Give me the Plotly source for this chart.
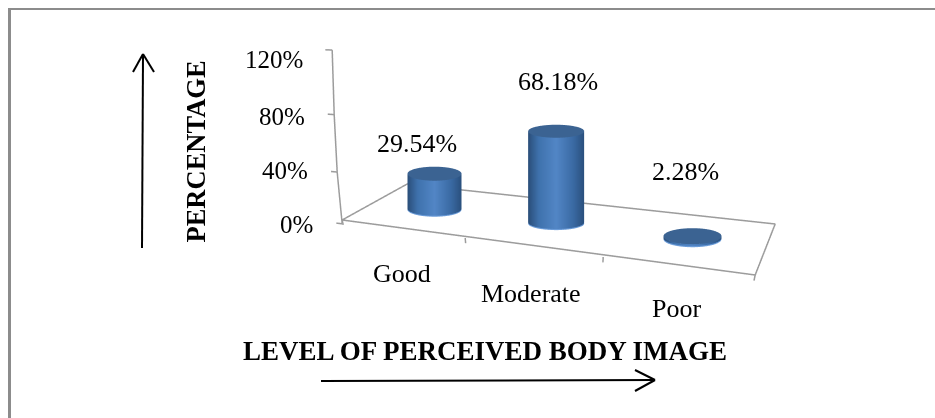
import numpy as np
import plotly.graph_objects as go

categories = ["Good", "Moderate", "Poor"]
values = [29.54, 68.18, 2.28]
value_ticks = [0, 40, 80, 120]
value_labels = ["0%", "40%", "80%", "120%"]
data_labels = ["29.54%", "68.18%", "2.28%"]

W, H = 935, 418
XR = (-0.525, 3.475); YR = (-0.5, 1.5); ZR = (-10, 125)
DOM_X = [.19, 1]; DOM_Y = [0, 1]
UP = np.array([0, 0, 1.0])
CX = W * (DOM_X[0] + DOM_X[1]) / 2
CY = H * (1 - (DOM_Y[0] + DOM_Y[1]) / 2)
F = H * (DOM_Y[1] - DOM_Y[0]) / 2 / np.tan(np.pi / 8)
LO = np.array([XR[0], YR[0], ZR[0]]); HI = np.array([XR[1], YR[1], ZR[1]])

# screen positions the camera is calibrated against
CAL_WORLD = np.array([[0, 0, 0], [1, 0, 0], [2, 0, 0], [3, 0, 0], [3, 1, 0], [0, 1, 0],
                      [.5, .5, 0], [1.5, .5, 0], [2.5, .5, 0], [.5, .5, 29.54], [1.5, .5, 68.18]], float)
CAL_PX = np.array([[342, 220], [465, 238], [603, 257], [755, 275], [775, 224], [407, 184],
                   [433, 209], [557, 225.5], [692, 238], [433, 170], [557, 132]], float)
CAL_WT = np.repeat([.3, .3, .3, .3, .3, .3, 3, 3, 3, 1.5, 1.5], 2)


def project(p, W3):
    eye = p[:3]; cen = p[3:6]; asp = np.array([np.exp(p[6]), np.exp(p[7]), 1.0])
    P = ((np.atleast_2d(np.array(W3, float)) - LO) / (HI - LO) - .5) * asp
    z = eye - cen; z = z / np.linalg.norm(z)
    r = np.cross(UP, z); r = r / np.linalg.norm(r)
    u = np.cross(z, r)
    d = P - eye
    den = -d @ z
    return np.c_[CX + F * (d @ r) / den, CY - F * (d @ u) / den]


def calibrate(p0, n=300):
    p = np.array(p0, float); lam = 1e-2
    fn = lambda q: (project(q, CAL_WORLD) - CAL_PX).ravel() * CAL_WT
    res = fn(p); c = res @ res
    for _ in range(n):
        J = np.zeros((res.size, 8))
        for k in range(8):
            q = p.copy(); q[k] += 1e-5
            J[:, k] = (fn(q) - res) / 1e-5
        A = J.T @ J
        q = p + np.linalg.solve(A + lam * (np.eye(8) * (1 + np.diag(A))), -J.T @ res)
        r2 = fn(q); c2 = r2 @ r2
        if np.isfinite(c2) and c2 < c:
            p, res, c = q, r2, c2; lam = max(lam * .5, 1e-8)
        else:
            lam = min(lam * 3, 1e6)
    return p


P = calibrate([.6435, -2.4272, .6381, .0102, .0492, -.3618, np.log(2.8691), np.log(1.2304)])
EYE = P[:3]; CEN = P[3:6]; ASP = [float(np.exp(P[6])), float(np.exp(P[7])), 1.0]


def proj(w):
    return project(P, w)[0]


def unproject_floor(u, v):
    q = np.array([1.5, .5])
    for _ in range(25):
        b = proj([q[0], q[1], 0]); e = 1e-4
        J = np.c_[(proj([q[0] + e, q[1], 0]) - b) / e, (proj([q[0], q[1] + e, 0]) - b) / e]
        q = q - np.linalg.solve(J, b - [u, v])
    return q


def x_for_screen(u, y, z):
    x = 0.0
    for _ in range(25):
        b = proj([x, y, z])[0]; d = (proj([x + 1e-4, y, z])[0] - b) / 1e-4
        x -= (b - u) / d
    return x


def ring(xc, yc, z, a, b):
    e = 1e-3; base = proj([xc, yc, z])
    dx = (proj([xc + e, yc, z]) - base) / e; dy = (proj([xc, yc + e, z]) - base) / e
    th = np.linspace(0, 2 * np.pi, 73)
    off = np.linalg.inv(np.c_[dx, dy]) @ np.vstack([a * np.cos(th), b * np.sin(th)])
    return th, xc + off[0], yc + off[1]


frame_px = [(342, 220), (755, 275), (775, 224), (407, 184), (342, 220)]
tick_px = [(342, 220), (465, 238), (603, 257), (755, 275)]
zaxis_u = [342, 337, 334, 332]
semi = [(27, 7), (28, 6.5), (29, 8)]

fig = go.Figure()


def line(x, y, z):
    fig.add_trace(go.Scatter3d(x=x, y=y, z=z, mode="lines", line=dict(color="#9c9c9c", width=3),
                               hoverinfo="skip", showlegend=False))


fr = np.array([unproject_floor(*q) for q in frame_px])
line(fr[:, 0], fr[:, 1], np.zeros(len(fr)))
zx = [x_for_screen(u, 0, t) for u, t in zip(zaxis_u, value_ticks)]
line(zx, [0] * 4, value_ticks)
for u, v in tick_px:
    q = unproject_floor(u, v)
    line([q[0], q[0]], [q[1], q[1]], [0, -4])
for xv, t in zip(zx, value_ticks):
    line([xv, xv - .05], [0, 0], [t, t])

flat = dict(ambient=1, diffuse=0, specular=0, roughness=1, fresnel=0)
cs = [[0, "#2a4d78"], [.2, "#3f72ad"], [.5, "#5286c6"], [.8, "#3a6aa3"], [1, "#2a4f7c"]]
for i, v in enumerate(values):
    a, b = semi[i]
    u0 = proj([i + .5, .5, 0])[0]
    xt = x_for_screen(u0, .5, v)
    th, xb, yb = ring(i + .5, .5, 0, a, b)
    th, xtop, ytop = ring(xt, .5, v, a, b)
    k = .9 / v
    Xr = np.c_[xb, xb + k * (xtop - xb)]; Yr = np.c_[yb, yb + k * (ytop - yb)]
    fig.add_trace(go.Surface(x=Xr, y=Yr, z=np.outer(np.ones_like(th), [0, .9]), surfacecolor=np.zeros((73, 2)),
                             colorscale=[[0, "#6a9bd8"], [1, "#6a9bd8"]], showscale=False, lighting=flat, hoverinfo="skip"))
    fig.add_trace(go.Surface(x=np.c_[Xr[:, 1], xtop], y=np.c_[Yr[:, 1], ytop], z=np.outer(np.ones_like(th), [.9, v]),
                             surfacecolor=np.outer(np.cos(th), [1, 1]), colorscale=cs, cmin=-1, cmax=1,
                             showscale=False, lighting=flat, hoverinfo="skip"))
    rr = np.array([0, 1.])
    fig.add_trace(go.Surface(x=xt + np.outer(xtop - xt, rr), y=.5 + np.outer(ytop - .5, rr), z=np.full((73, 2), v),
                             surfacecolor=np.zeros((73, 2)), colorscale=[[0, "#3b6392"], [1, "#3b6392"]],
                             showscale=False, lighting=flat, hoverinfo="skip"))

SERIF = "Liberation Serif"
sa = []


def scene_label(w, text, target, size, xanchor="center"):
    u, v = proj(w)
    sa.append(dict(x=w[0], y=w[1], z=w[2], text=text, showarrow=False, xanchor=xanchor, yanchor="middle",
                   xshift=target[0] - u, yshift=v - target[1], font=dict(family=SERIF, size=size, color="black")))


tick_label_px = [(315, 224), (310, 171), (307, 116), (305, 60)]
data_label_px = [(417, 144), (558, 82), (685, 171)]
cat_label_px = [(402, 273), (531, 293), (676, 308)]
for xv, t, l, tp in zip(zx, value_ticks, value_labels, tick_label_px):
    scene_label([xv, 0, t], l, tp, 25, "right")
for i, (v, l) in enumerate(zip(values, data_labels)):
    scene_label([i + .5, .5, v], l, data_label_px[i], 26)
for i, l in enumerate(categories):
    scene_label([i + .5, 0, 0], l, cat_label_px[i], 26)


def px(x): return x / W
def py(y): return 1 - y / H


def seg(x0, y0, x1, y1, color="black", width=2):
    return dict(type="line", xref="paper", yref="paper", x0=px(x0), x1=px(x1), y0=py(y0), y1=py(y1),
                line=dict(color=color, width=width))


shapes = [seg(8, 9, 935, 9, "#8c8c8c", 2.2), seg(9.5, 8, 9.5, 418, "#8c8c8c", 3),
          seg(142, 248, 143, 55), seg(133, 72, 143, 54), seg(154, 72, 143, 54),
          seg(321, 381, 655, 380), seg(635, 370, 655, 380), seg(635, 391, 655, 380)]
annots = [
    dict(text="<b>LEVEL OF PERCEIVED BODY IMAGE</b>", x=px(485), y=py(351), xref="paper", yref="paper", xanchor="center",
         yanchor="middle", showarrow=False, font=dict(family=SERIF, size=27, color="black")),
    dict(text="<b>PERCENTAGE</b>", x=px(195.5), y=py(152), xref="paper", yref="paper", xanchor="center", yanchor="middle",
         showarrow=False, textangle=-90, font=dict(family=SERIF, size=26.5, color="black")),
]
fig.update_layout(
    width=W, height=H, margin=dict(l=0, r=0, t=0, b=0), paper_bgcolor="white", showlegend=False,
    scene=dict(domain=dict(x=DOM_X, y=DOM_Y), aspectmode="manual",
               aspectratio=dict(x=ASP[0], y=ASP[1], z=ASP[2]), annotations=sa,
               xaxis=dict(visible=False, range=list(XR)), yaxis=dict(visible=False, range=list(YR)),
               zaxis=dict(visible=False, range=list(ZR)),
               camera=dict(eye=dict(x=EYE[0], y=EYE[1], z=EYE[2]), center=dict(x=CEN[0], y=CEN[1], z=CEN[2]),
                           up=dict(x=UP[0], y=UP[1], z=UP[2]), projection=dict(type="perspective"))),
    annotations=annots, shapes=shapes)
fig.write_html("out.html", config=dict(displayModeBar=False),
               post_script="document.body.style.margin='0';document.documentElement.style.overflow='hidden';window.dispatchEvent(new Event('resize'));")
